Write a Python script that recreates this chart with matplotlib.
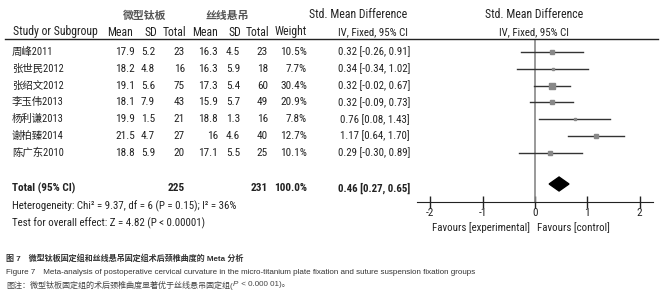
#!/usr/bin/env python3
"""Forest plot: micro-titanium plate vs suture suspension, cervical curvature."""
import matplotlib
matplotlib.use("Agg")
import matplotlib.pyplot as plt
from matplotlib.lines import Line2D

W, H = 663, 300

studies = ["周峰2011", "张世民2012", "张绍文2012", "李玉伟2013", "杨利谦2013", "谢柏臻2014", "陈广东2010"]
mean_exp = [17.9, 18.2, 19.1, 18.1, 19.9, 21.5, 18.8]
sd_exp = [5.2, 4.8, 5.6, 7.9, 1.5, 4.7, 5.9]
n_exp = [23, 16, 75, 43, 21, 27, 20]
mean_ctl = [16.3, 16.3, 17.3, 15.9, 18.8, 16, 17.1]
sd_ctl = [4.5, 5.9, 5.4, 5.7, 1.3, 4.6, 5.5]
n_ctl = [23, 18, 60, 49, 16, 40, 25]
weight = [10.5, 7.7, 30.4, 20.9, 7.8, 12.7, 10.1]
smd = [0.32, 0.34, 0.32, 0.32, 0.76, 1.17, 0.29]
ci_lo = [-0.26, -0.34, -0.02, -0.09, 0.08, 0.64, -0.30]
ci_hi = [0.91, 1.02, 0.67, 0.73, 1.43, 1.70, 0.89]
total_exp, total_ctl = 225, 231
total_smd, total_lo, total_hi = 0.46, 0.27, 0.65
xticks = [-2, -1, 0, 1, 2]

NARROW = ["Roboto Condensed", "Liberation Sans", "Noto Sans CJK SC", "DejaVu Sans"]
CAP = ["Liberation Sans", "Noto Sans CJK SC", "DejaVu Sans"]
FS = 8.5      # headers
FS_NUM = 8.1  # table numbers
FS_SM = 7.8   # CI column, footer, favours labels
TXT = "#222222"

fig = plt.figure(figsize=(W / 100, H / 100), dpi=100)


def t(x, y, s, ha="left", fs=FS, fam=NARROW, **kw):
    kw.setdefault("color", TXT)
    return fig.text(x / W, 1 - y / H, s, ha=ha, va="center", fontsize=fs, family=fam, **kw)


# header
t(145, 16, "微型钛板", ha="center", fs=7.8, fontweight="bold", color="#555555")
t(227, 16, "丝线悬吊", ha="center", fs=7.8, fontweight="bold", color="#555555")
t(358, 15, "Std. Mean Difference", ha="center")
t(534, 15, "Std. Mean Difference", ha="center")
t(13, 32, "Study or Subgroup")
cols = [(133, "Mean"), (157, "SD"), (186, "Total"), (218, "Mean"), (241, "SD"),
        (269, "Total"), (307, "Weight")]
for x, s in cols:
    t(x, 32, s, ha="right")
t(373, 32, "IV, Fixed, 95% CI", ha="center", fs=FS_SM)
t(534, 32, "IV, Fixed, 95% CI", ha="center", fs=FS_SM)
fig.add_artist(Line2D([5 / W, 658 / W], [1 - 39 / H] * 2, color="#222222", lw=1))

row_y = [52 + 16.8 * i for i in range(len(studies))]
for i, y in enumerate(row_y):
    t(12, y, studies[i], fs=7.5)
    t(135, y, f"{mean_exp[i]:g}", ha="right", fs=FS_NUM)
    t(155, y, f"{sd_exp[i]:g}", ha="right", fs=FS_NUM)
    t(185, y, f"{n_exp[i]}", ha="right", fs=FS_NUM)
    t(218, y, f"{mean_ctl[i]:g}", ha="right", fs=FS_NUM)
    t(240, y, f"{sd_ctl[i]:g}", ha="right", fs=FS_NUM)
    t(268, y, f"{n_ctl[i]}", ha="right", fs=FS_NUM)
    t(307, y, f"{weight[i]:.1f}%", ha="right", fs=FS_NUM)
    t(410, y, f"{smd[i]:.2f} [{ci_lo[i]:.2f}, {ci_hi[i]:.2f}]", ha="right", fs=FS_SM)

ty = 188
t(12, ty, "Total (95% CI)", fs=FS_NUM, fontweight="bold")
t(185, ty, f"{total_exp}", ha="right", fs=FS_NUM, fontweight="bold")
t(268, ty, f"{total_ctl}", ha="right", fs=FS_NUM, fontweight="bold")
t(307, ty, "100.0%", ha="right", fs=FS_NUM, fontweight="bold")
t(410, ty, f"{total_smd:.2f} [{total_lo:.2f}, {total_hi:.2f}]", ha="right", fs=FS_SM,
  fontweight="bold")
t(12, 206, "Heterogeneity: Chi² = 9.37, df = 6 (P = 0.15); I² = 36%", fs=FS_SM)
t(12, 223, "Test for overall effect: Z = 4.82 (P < 0.00001)", fs=FS_SM)

# forest panel
unit = 52.3
x0 = 535
left, right = 417, 653
top, bottom = 39, 202
ax = fig.add_axes([left / W, 1 - bottom / H, (right - left) / W, (bottom - top) / H])
ax.set_xlim((left - x0) / unit, (right - x0) / unit)
ax.set_ylim(bottom, top)
ax.patch.set_alpha(0)
for s in ("top", "right", "left"):
    ax.spines[s].set_visible(False)
ax.spines["bottom"].set_color("#222222")
ax.set_yticks([])
ax.set_xticks(xticks)
ax.set_xticklabels([f"{v:g}" for v in xticks], family=NARROW, fontsize=FS_NUM, color=TXT)
ax.tick_params(axis="x", direction="inout", length=8, width=1, color="#222222", pad=0)
ax.axvline(0, color="#888888", lw=1.2)

for i, y in enumerate(row_y):
    ax.plot([ci_lo[i], ci_hi[i]], [y, y], color="#333333", lw=1)
    side = 1.05 * weight[i] ** 0.5
    ax.plot(smd[i], y, marker="s", ms=side * 0.72, color="#888888", mec="#888888")

ax.fill([total_lo, total_smd, total_hi, total_smd],
        [ty - 4, ty - 11, ty - 4, ty + 3], color="black")

t(530, 228, "Favours [experimental]", ha="right", fs=FS_SM)
t(537, 228, "Favours [control]", fs=FS_SM)

# caption
t(6, 259, "图 7　微型钛板固定组和丝线悬吊固定组术后颈椎曲度的 Meta 分析", fs=5.8, fam=CAP,
  fontweight="bold", color="#333333")
t(6, 272, "Figure 7　Meta-analysis of postoperative cervical curvature in the micro-titanium "
  "plate fixation and suture suspension fixation groups", fs=5.8, fam=CAP, color="#333333")

# last caption line in three pieces so the P can be italic
rend = fig.canvas.get_renderer()
x = 6
for s, style in [("图注：微型钛板固定组的术后颈椎曲度显著优于丝线悬吊固定组(", "normal"),
                 ("P", "italic"), (" < 0.000 01)。", "normal")]:
    tx = t(x, 285, s, fs=5.8, fam=CAP, color="#444444", fontstyle=style)
    x += tx.get_window_extent(rend).width + 0.3

fig.savefig("out.png", dpi=100)
